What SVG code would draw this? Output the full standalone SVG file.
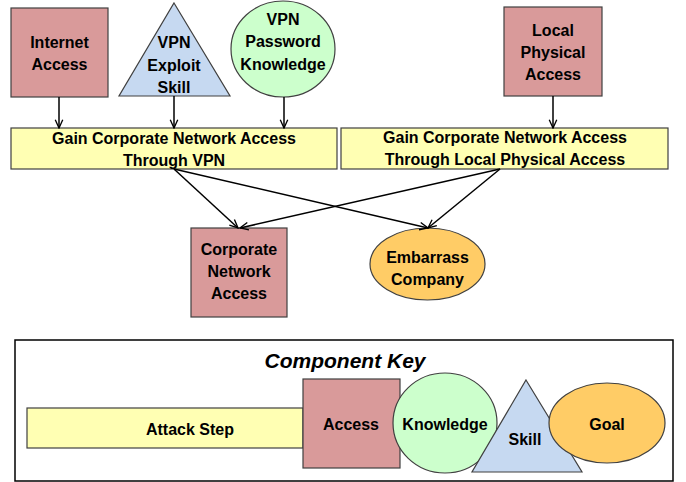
<svg xmlns="http://www.w3.org/2000/svg" width="686" height="482" viewBox="0 0 686 482">
<defs>
<marker id="arr" viewBox="0 0 12 12" refX="11" refY="6" markerWidth="10" markerHeight="10" markerUnits="userSpaceOnUse" orient="auto">
<polyline points="1,1.5 11,6 1,10.5" fill="none" stroke="#000" stroke-width="1.6"/>
</marker>
<style>
.t{font-family:"Liberation Sans",Arial,sans-serif;font-weight:bold;font-size:16px;fill:#000;text-anchor:middle}
.acc{fill:#D99A9A;stroke:#404040;stroke-width:1.2}
.skl{fill:#C6D9F1;stroke:#404040;stroke-width:1.2}
.kn{fill:#CCFFCC;stroke:#404040;stroke-width:1.2}
.st{fill:#FFFFB3;stroke:#404040;stroke-width:1.2}
.gl{fill:#FFCC66;stroke:#404040;stroke-width:1.2}
.c{stroke:#000;stroke-width:1.5;fill:none;marker-end:url(#arr)}
</style>
</defs>
<rect width="686" height="482" fill="#fff"/>

<g id="internet-access">
<rect class="acc" x="11" y="8" width="97" height="89"/>
<text class="t" x="59.5" y="48">Internet</text>
<text class="t" x="59.5" y="70">Access</text>
</g>
<g id="vpn-exploit-skill">
<polygon class="skl" points="174,3 230,96 119,96"/>
<text class="t" x="174" y="48">VPN</text>
<text class="t" x="174" y="71">Exploit</text>
<text class="t" x="174" y="93">Skill</text>
</g>
<g id="vpn-password-knowledge">
<ellipse class="kn" cx="283" cy="49" rx="52" ry="48"/>
<text class="t" x="283" y="25">VPN</text>
<text class="t" x="283" y="47">Password</text>
<text class="t" x="283" y="70">Knowledge</text>
</g>
<g id="local-physical-access">
<rect class="acc" x="504" y="7" width="98" height="89"/>
<text class="t" x="553" y="36">Local</text>
<text class="t" x="553" y="58">Physical</text>
<text class="t" x="553" y="80">Access</text>
</g>
<g id="gain-vpn">
<rect class="st" x="11" y="128" width="326" height="41"/>
<text class="t" x="174" y="144">Gain Corporate Network Access</text>
<text class="t" x="174" y="166">Through VPN</text>
</g>
<g id="gain-local">
<rect class="st" x="341" y="128" width="327" height="41"/>
<text class="t" x="505" y="143">Gain Corporate Network Access</text>
<text class="t" x="505" y="165">Through Local Physical Access</text>
</g>
<g id="corporate-network-access">
<rect class="acc" x="191" y="228" width="96" height="89"/>
<text class="t" x="239" y="255">Corporate</text>
<text class="t" x="239" y="277">Network</text>
<text class="t" x="239" y="299">Access</text>
</g>
<g id="embarrass-company">
<ellipse class="gl" cx="427.5" cy="264" rx="57.5" ry="36"/>
<text class="t" x="427.5" y="263">Embarrass</text>
<text class="t" x="427.5" y="285">Company</text>
</g>

<g id="connectors">
<line class="c" x1="59" y1="97" x2="59" y2="128"/>
<line class="c" x1="174" y1="96" x2="174" y2="128"/>
<line class="c" x1="284" y1="97" x2="284" y2="128"/>
<line class="c" x1="553" y1="96" x2="553" y2="128"/>
<line class="c" x1="174" y1="169" x2="238" y2="228"/>
<line class="c" x1="174" y1="169" x2="428" y2="228"/>
<line class="c" x1="500" y1="169" x2="240" y2="228"/>
<line class="c" x1="500" y1="169" x2="428" y2="228"/>
</g>

<g id="component-key">
<rect x="15" y="340" width="658" height="141" fill="#fff" stroke="#000" stroke-width="1.5"/>
<text class="t" x="345" y="368" style="font-size:21px;font-style:italic">Component Key</text>
<g id="key-attack-step">
<rect class="st" x="27" y="408" width="276" height="40"/>
<text class="t" x="190" y="435">Attack Step</text>
</g>
<g id="key-access">
<rect class="acc" x="303" y="379" width="97" height="89"/>
<text class="t" x="351" y="430">Access</text>
</g>
<g id="key-knowledge">
<ellipse class="kn" cx="445" cy="423" rx="52" ry="50"/>
<text class="t" x="445" y="430">Knowledge</text>
</g>
<g id="key-skill">
<polygon class="skl" points="526,380 582,472 472,472"/>
<text class="t" x="525" y="445">Skill</text>
</g>
<g id="key-goal">
<ellipse class="gl" cx="607" cy="423" rx="58" ry="40"/>
<text class="t" x="607" y="430">Goal</text>
</g>
</g>
</svg>
